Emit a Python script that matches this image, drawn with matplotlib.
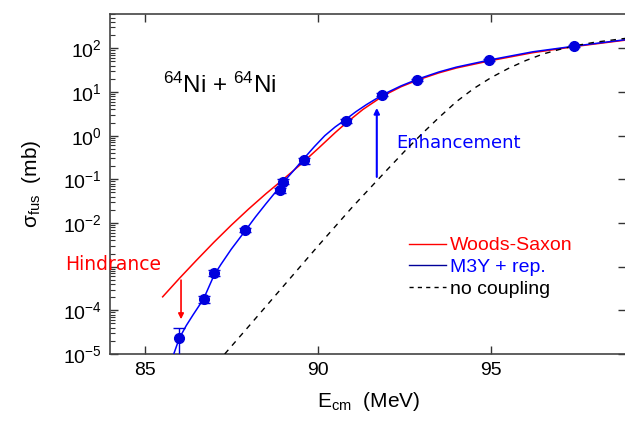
import matplotlib
matplotlib.use('Agg')
import matplotlib.pyplot as plt
import numpy as np
from matplotlib.lines import Line2D
from matplotlib.ticker import FixedLocator, FixedFormatter, LogLocator, NullFormatter

plt.rcParams['font.family'] = ['Liberation Sans', 'DejaVu Sans']
plt.rcParams['mathtext.default'] = 'regular'

# measured fusion cross sections
e_exp = [86.0, 86.7, 87.0, 87.9, 88.9, 89.0, 89.6, 90.8, 91.85, 92.85, 94.95, 97.4]
sig_exp = [2.3e-5, 1.8e-4, 7.2e-4, 6.9e-3, 0.057, 0.089, 0.27, 2.2, 8.7, 19.0, 54.0, 112.0]
sig_err = [1.7e-5, 3.0e-5, 1.2e-4, 8.0e-4, 8.0e-3, 1.2e-2, 4.0e-2, 0.2, 0.6, 1.2, 3.0, 5.0]

# coupled-channels calculations, log10(sigma / mb)
e_ws = [85.52, 86.0, 86.5, 87.0, 87.5, 88.0, 88.5, 89.0, 89.5, 90.0, 90.5, 90.8, 91.3, 91.9,
        92.4, 92.9, 93.5, 94.0, 95.0, 96.2, 97.5, 98.9]
lg_ws = [-3.69, -3.27, -2.85, -2.44, -2.05, -1.68, -1.33, -1.0, -0.66, -0.3, 0.07, 0.28, 0.6, 0.92,
         1.12, 1.28, 1.44, 1.55, 1.72, 1.9, 2.05, 2.19]

e_m3y = [85.84, 86.0, 86.2, 86.4, 86.7, 86.85, 87.0, 87.2, 87.5, 87.9, 88.2, 88.5, 88.8, 89.0,
         89.3, 89.6, 89.9, 90.2, 90.5, 90.8, 91.1, 91.4, 91.9, 92.4, 92.9, 93.5, 94.0, 95.0,
         96.2, 97.5, 98.9]
lg_m3y = [-5.0, -4.64, -4.35, -4.1, -3.74, -3.47, -3.2, -2.95, -2.6, -2.18, -1.86, -1.56, -1.27, -1.07,
          -0.8, -0.52, -0.25, 0.0, 0.2, 0.37, 0.55, 0.71, 0.95, 1.14, 1.3, 1.46, 1.57, 1.74,
          1.92, 2.06, 2.2]

e_nc = [87.31, 88.0, 89.0, 90.0, 91.0, 92.0, 92.5, 93.0, 93.5, 94.0, 94.5, 95.0, 95.5, 96.0,
        96.5, 97.0, 97.5, 98.0, 98.9]
lg_nc = [-5.0, -4.37, -3.45, -2.53, -1.63, -0.78, -0.36, 0.04, 0.42, 0.78, 1.08, 1.33, 1.54, 1.72,
         1.87, 1.98, 2.07, 2.14, 2.23]

ytick_vals = [1e-5, 1e-4, 1e-3, 1e-2, 1e-1, 1e0, 1e1, 1e2]
ytick_txt = ['$10^{-5}$', '$10^{-4}$', '', '$10^{-2}$', '$10^{-1}$', '$10^{0}$', '$10^{1}$', '$10^{2}$']

fig = plt.figure(figsize=(6.25, 4.21), dpi=100)
ax = fig.add_axes([0.176, 0.1591, 0.826, 0.8076])

ax.plot(e_ws, 10 ** np.array(lg_ws), color='red', lw=1.1, zorder=2)
ax.plot(e_m3y, 10 ** np.array(lg_m3y), color='blue', lw=1.1, zorder=3)
ax.plot(e_nc, 10 ** np.array(lg_nc), color='black', lw=1.0, dashes=(4, 4), zorder=4)
ax.errorbar(e_exp, sig_exp, yerr=sig_err, fmt='o', color='#0000dd', ms=7,
            capsize=4, elinewidth=1.0, capthick=1.0, zorder=5)

ax.set_yscale('log')
ax.set_xlim(84.0, 98.9)
ax.set_ylim(1e-5, 610)

ax.xaxis.set_major_locator(FixedLocator([85, 90, 95]))
ax.yaxis.set_major_locator(FixedLocator(ytick_vals))
ax.yaxis.set_major_formatter(FixedFormatter(ytick_txt))
ax.yaxis.set_minor_locator(LogLocator(base=10, subs=np.arange(2, 10)))
ax.yaxis.set_minor_formatter(NullFormatter())

ax.tick_params(which='major', direction='in', top=True, right=True, length=6,
               width=1.0, labelsize=14, color='#333333', pad=6)
ax.tick_params(which='minor', direction='in', left=True, right=False, length=3.5, width=0.8, color='#333333')
for sp in ax.spines.values():
    sp.set_color('#444444')
    sp.set_linewidth(1.2)

ax.set_xlabel('E$_{cm}$  (MeV)', fontsize=15, labelpad=8)
ax.set_ylabel('σ$_{fus}$  (mb)', fontsize=15, labelpad=14)

ax.text(0.103, 0.79, '$^{64}$Ni + $^{64}$Ni', transform=ax.transAxes, fontsize=17.5, va='center')

# hindrance / enhancement markers
ax.annotate('', xy=(86.05, 5.4e-5), xytext=(86.05, 5.7e-4),
            arrowprops=dict(arrowstyle='-|>', color='red', lw=1.2, mutation_scale=8))
ax.annotate('', xy=(91.7, 5.0), xytext=(91.7, 0.098),
            arrowprops=dict(arrowstyle='-|>', color='blue', lw=1.5, mutation_scale=8))
ax.text(82.7, 1.1e-3, 'Hindrance', color='red', fontsize=13.5, family='DejaVu Sans', va='center')
ax.text(92.25, 0.68, 'Enhancement', color='blue', fontsize=13, family='DejaVu Sans', va='center')

handles = [Line2D([], [], color='red', lw=1.0),
           Line2D([], [], color='#000099', lw=1.0),
           Line2D([], [], color='black', lw=1.0, dashes=(3, 3))]
ax.legend(handles, ['Woods-Saxon', 'M3Y + rep.', 'no coupling'], loc='upper left',
          bbox_to_anchor=(0.579, 0.345), frameon=False, fontsize=14,
          labelcolor=['red', 'blue', 'black'], handlelength=1.9, handletextpad=0.2,
          labelspacing=0.22, borderpad=0, borderaxespad=0)

fig.savefig('out.png', dpi=100)
